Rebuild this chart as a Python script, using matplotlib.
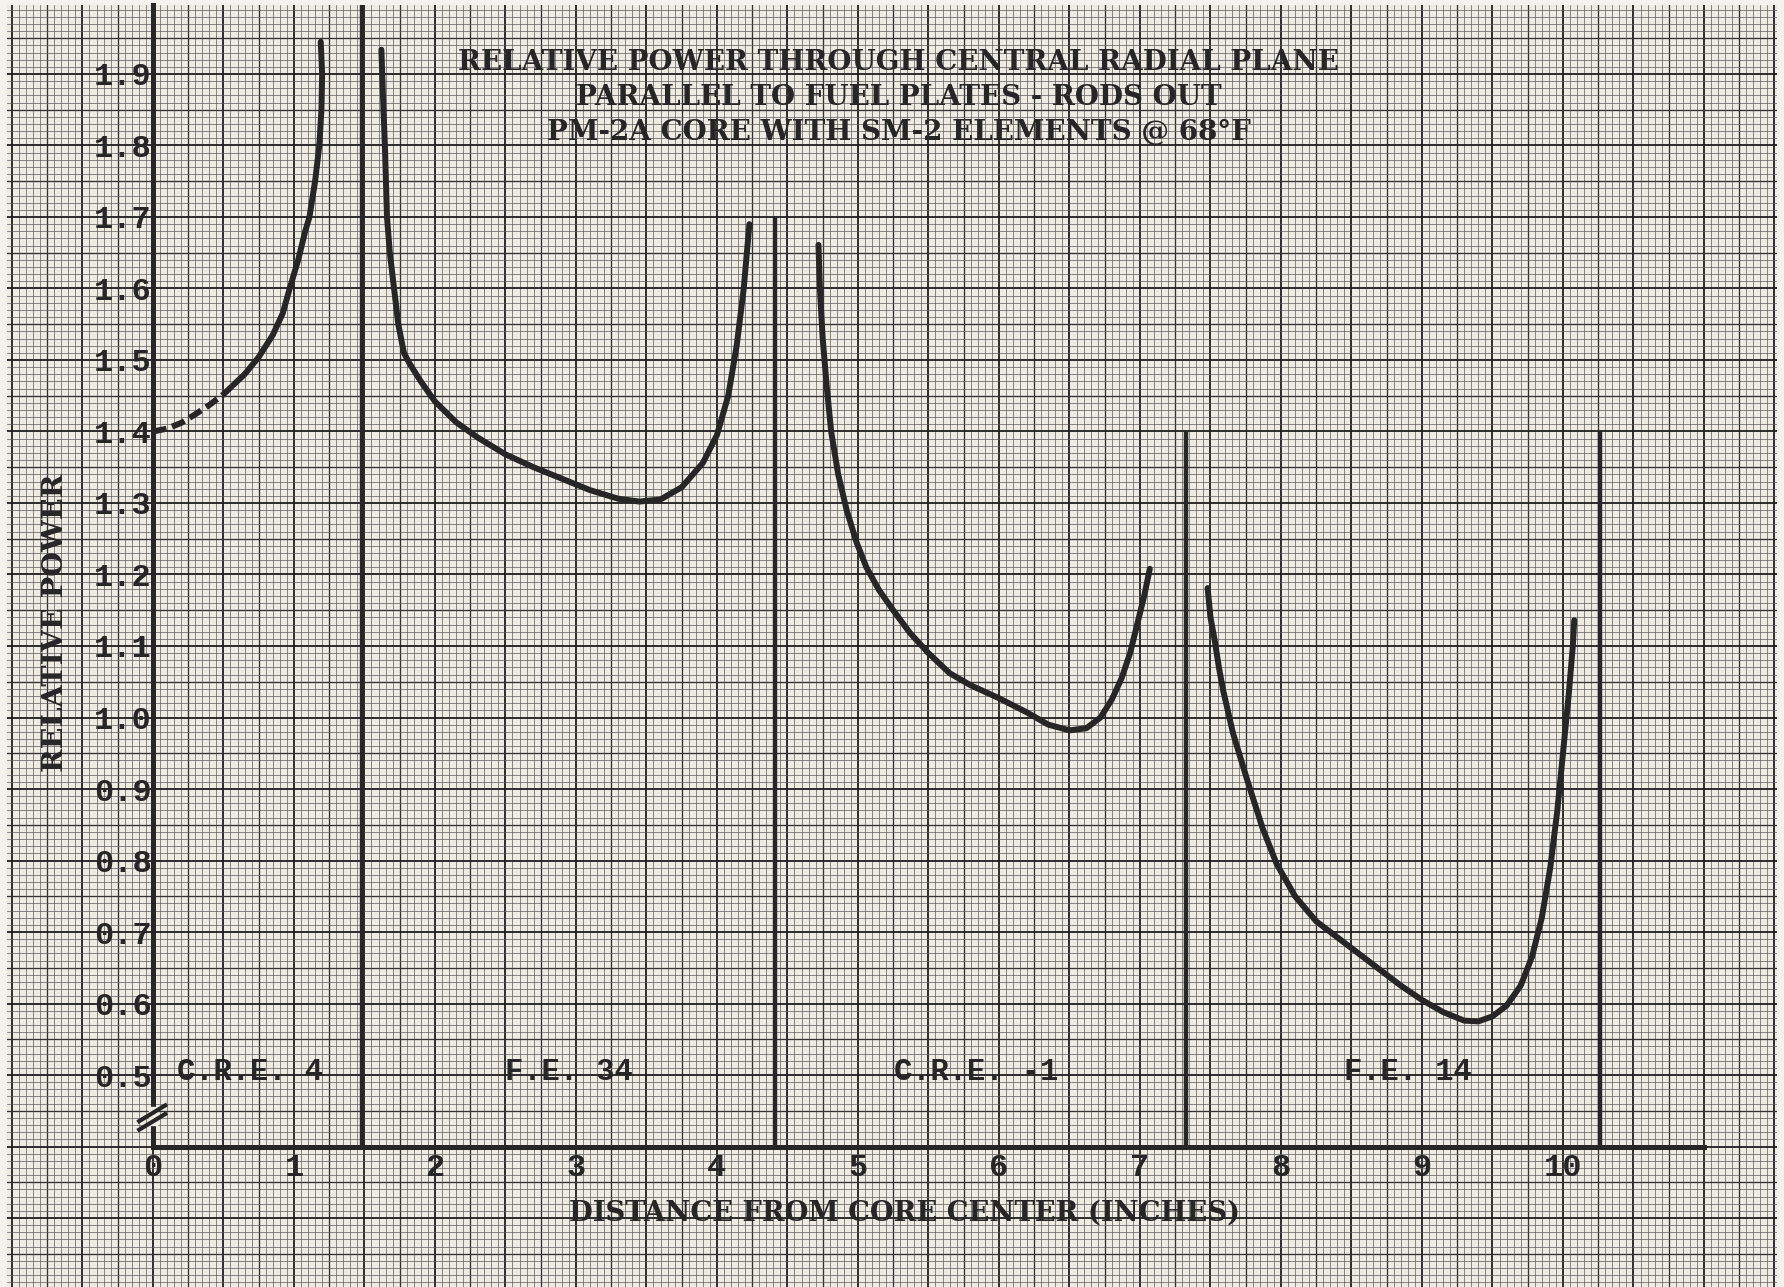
import numpy as np
import matplotlib
matplotlib.use("Agg")
import matplotlib.pyplot as plt

# relative power readings, one list per element region (inches from core center)
cre4_dash_x = [0.0, 0.1, 0.2, 0.3, 0.4, 0.5, 0.57]
cre4_dash_y = [1.400, 1.404, 1.412, 1.424, 1.437, 1.452, 1.465]
cre4_x = [0.57, 0.65, 0.75, 0.85, 0.92, 0.97, 1.03, 1.08, 1.11, 1.15, 1.18, 1.195, 1.20, 1.19]
cre4_y = [1.465, 1.480, 1.504, 1.535, 1.565, 1.600, 1.640, 1.680, 1.700, 1.750, 1.800, 1.850, 1.900, 1.945]

fe34_x = [1.62, 1.635, 1.645, 1.66, 1.68, 1.71, 1.74, 1.78, 1.82, 1.90, 2.0, 2.15, 2.3, 2.5,
          2.7, 2.9, 3.1, 3.3, 3.45, 3.6, 3.75, 3.9, 4.0, 4.08, 4.14, 4.19, 4.23]
fe34_y = [1.934, 1.85, 1.80, 1.70, 1.65, 1.60, 1.55, 1.51, 1.495, 1.470, 1.442, 1.413, 1.392, 1.368,
          1.350, 1.334, 1.318, 1.306, 1.302, 1.305, 1.322, 1.356, 1.395, 1.450, 1.520, 1.600, 1.690]

cre1_x = [4.72, 4.73, 4.75, 4.78, 4.81, 4.86, 4.92, 4.99, 5.06, 5.15, 5.25, 5.37, 5.5, 5.65,
          5.8, 6.0, 6.2, 6.35, 6.5, 6.62, 6.72, 6.8, 6.87, 6.93, 6.98, 7.03, 7.07]
cre1_y = [1.661, 1.60, 1.53, 1.46, 1.40, 1.34, 1.29, 1.245, 1.210, 1.178, 1.150, 1.118, 1.090, 1.062,
          1.045, 1.027, 1.007, 0.990, 0.982, 0.985, 1.000, 1.025, 1.055, 1.090, 1.130, 1.170, 1.208]

fe14_x = [7.48, 7.50, 7.53, 7.56, 7.59, 7.66, 7.76, 7.87, 7.97, 8.1, 8.25, 8.45, 8.65, 8.85, 9.0,
          9.15, 9.3, 9.4, 9.5, 9.6, 9.7, 9.78, 9.85, 9.91, 9.96, 10.0, 10.04, 10.07, 10.08]
fe14_y = [1.181, 1.14, 1.108, 1.07, 1.038, 0.978, 0.913, 0.845, 0.795, 0.750, 0.715, 0.685, 0.655, 0.625, 0.605,
          0.588, 0.576, 0.575, 0.582, 0.597, 0.625, 0.665, 0.720, 0.790, 0.870, 0.950, 1.030, 1.100, 1.136]

# element boundaries: position and top of the divider
divider_x = [1.48, 4.41, 7.33, 10.26]
divider_top = [2.0, 1.70, 1.40, 1.40]

region_names = ["C.R.E. 4", "F.E. 34", "C.R.E. -1", "F.E. 14"]
region_x = [0.69, 2.95, 5.84, 8.90]

x_ticks = list(range(0, 11))
y_ticks = [0.5, 0.6, 0.7, 0.8, 0.9, 1.0, 1.1, 1.2, 1.3, 1.4, 1.5, 1.6, 1.7, 1.8, 1.9]

title_lines = ["RELATIVE POWER THROUGH CENTRAL RADIAL PLANE",
               "PARALLEL TO FUEL PLATES - RODS OUT",
               "PM-2A CORE WITH SM-2 ELEMENTS @ 68°F"]

PAPER = "#eeebe3"
INK = "#262626"
SERIF = "DejaVu Serif"
MONO = "Liberation Mono"

fig = plt.figure(figsize=(17.84, 12.87), dpi=100, facecolor="#f4f2ec")
ax = fig.add_axes([7 / 1784, 0, 1770 / 1784, 1282 / 1287])
ax.set_facecolor(PAPER)
x0, x1 = -1.035, 11.518
y0, y1 = 0.2035, 1.9965
ax.set_xlim(x0, x1)
ax.set_ylim(y0, y1)

# graph paper: 0.05 in / 0.01 minor, heavier every 0.25 / 0.05, darkest every 0.5 / 0.1
def paper_style(k):
    if k % 10 == 0:
        return 1.3, "#1e1e1e"
    if k % 5 == 0:
        return 0.95, "#333333"
    return 0.5, "#5c5c5c"

for v in np.arange(-1.0, 11.6, 0.05):
    lw, c = paper_style(int(round(v / 0.05)))
    ax.axvline(v, color=c, lw=lw, zorder=1)
for v in np.arange(0.21, 2.0, 0.01):
    lw, c = paper_style(int(round(v / 0.01)))
    ax.axhline(v, color=c, lw=lw, zorder=1)

# axes drawn as heavy inked lines
for s in ["top", "right"]:
    ax.spines[s].set_visible(False)
ax.spines["left"].set_position(("data", 0))
ax.spines["bottom"].set_position(("data", 0.4))
ax.spines["left"].set_bounds(0.4, y1)
ax.spines["bottom"].set_bounds(0, 11.0)
for s in ["left", "bottom"]:
    ax.spines[s].set_linewidth(3.6)
    ax.spines[s].set_color(INK)
    ax.spines[s].set_zorder(4)

ax.set_xticks(x_ticks)
ax.set_xticklabels([str(t) for t in x_ticks], fontfamily=MONO, fontweight="bold", fontsize=23, color=INK)
ax.set_yticks(y_ticks)
ax.set_yticklabels([f"{t:.1f}" for t in y_ticks], fontfamily=MONO, fontweight="bold", fontsize=23, color=INK)
ax.tick_params(axis="x", length=0, pad=5)
ax.tick_params(axis="y", length=0, pad=1)

# axis break on the power scale
ax.fill_between([-0.03, 0.03], 0.43, 0.455, color=PAPER, zorder=5)
for off in [0.0, -0.012]:
    ax.plot([-0.11, 0.10], [0.434 + off, 0.459 + off], color=INK, lw=3.0, zorder=6,
            solid_capstyle="butt")

# element dividers
for xv, top in zip(divider_x, divider_top):
    ax.vlines(xv, 0.4, top, color=INK, lw=3.2, zorder=3)

curve_kw = dict(color=INK, lw=4.3, zorder=5, solid_joinstyle="round", solid_capstyle="round")
ax.plot(cre4_dash_x, cre4_dash_y, color=INK, lw=4.3, zorder=5, linestyle=(0, (2.3, 1.0)),
        dash_capstyle="butt")
ax.plot(cre4_x, cre4_y, **curve_kw)
ax.plot(fe34_x, fe34_y, **curve_kw)
ax.plot(cre1_x, cre1_y, **curve_kw)
ax.plot(fe14_x, fe14_y, **curve_kw)

for name, xv in zip(region_names, region_x):
    ax.text(xv, 0.504, name, ha="center", va="center", fontfamily=MONO, fontweight="bold",
            fontsize=22, color=INK, zorder=6)

for i, line in enumerate(title_lines):
    ax.text(5.29, 1.916 - i * 0.049, line, ha="center", va="center", fontfamily=SERIF,
            fontweight="bold", fontsize=20, color=INK, zorder=6)

ax.text(-0.69, 1.132, "RELATIVE POWER", rotation=90, ha="center", va="center",
        fontfamily=SERIF, fontweight="bold", fontsize=20.5, color=INK, zorder=6)
ax.text(5.33, 0.307, "DISTANCE FROM CORE CENTER (INCHES)", ha="center", va="center",
        fontfamily=SERIF, fontweight="bold", fontsize=19.7, color=INK, zorder=6)

fig.savefig("out.png", dpi=100, facecolor=fig.get_facecolor())
